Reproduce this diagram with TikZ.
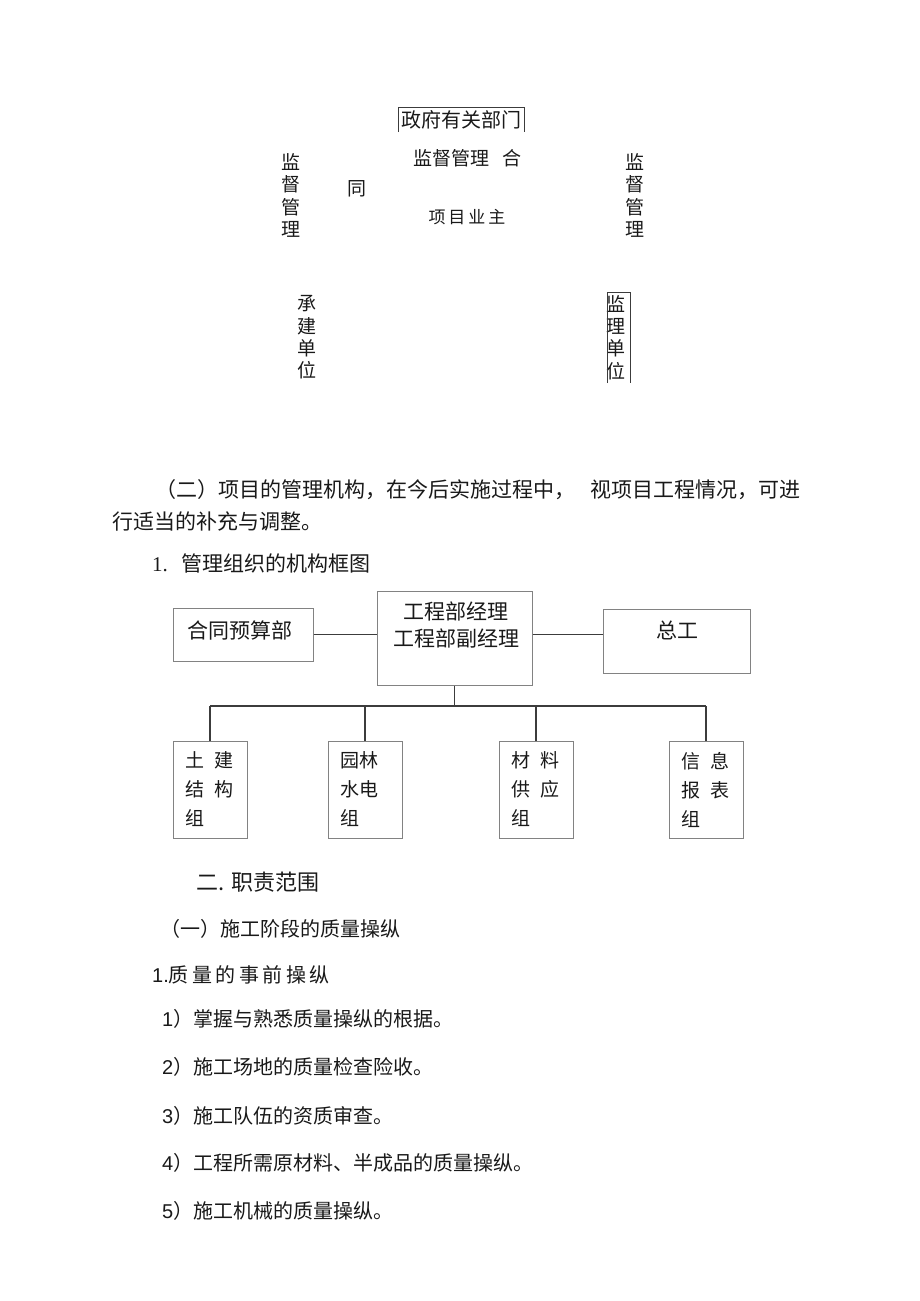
\documentclass[tikz,border=0pt]{standalone}
\usepackage{fontspec}
\setmainfont{Liberation Serif}
\newfontfamily\cjk{Noto Sans CJK SC}
\newfontfamily\digits{Liberation Sans}
\usetikzlibrary{positioning}
\definecolor{inkblack}{RGB}{25,25,25}
\definecolor{boxgray}{RGB}{130,130,130}
\definecolor{linegray}{RGB}{60,60,60}
\newcommand{\cjksize}[2]{\cjk\fontsize{#1}{#2}\selectfont}

\begin{document}
\begin{tikzpicture}[x=1pt, y=-1pt,
  txt/.style={inner sep=0pt, text=inkblack, font=\cjksize{20}{24}},
  para/.style={txt, anchor=west},
  vert/.style={txt, font=\cjksize{19}{22.3}, align=center},
  frame/.style={draw=linegray, line width=0.9pt},
  orgbox/.style={draw=boxgray, line width=1pt, inner sep=0pt},
  groupbox/.style={orgbox, minimum width=74pt, minimum height=97pt,
    text width=50pt, align=left, text=inkblack, font=\cjksize{19}{29}},
  conn/.style={draw=linegray, line width=1.3pt}]
  \useasboundingbox (0,0) rectangle (920,1301);

  % Relations
  \node[txt] (zhengfu) at (461,120) {政府有关部门};
  \draw[frame] (398,132) |- (524,107) -- (524,132);
  \node[txt, font=\cjksize{19}{22}, anchor=west] (jianduhe) at (413,158) {监督管理\hspace{13pt}合};
  \node[txt, font=\cjksize{19}{22}] (tong) at (357,189) {同};
  \node[txt, font=\cjksize{17}{20}] (yezhu) at (467,217) {项\hspace{3pt}目\hspace{3pt}业\hspace{3pt}主};
  \node[vert] (jiandul) at (291,195.5) {监\\督\\管\\理};
  \node[vert] (jiandur) at (635,195.5) {监\\督\\管\\理};
  \node[vert] (chengjian) at (307,337.5) {承\\建\\单\\位};
  \node[vert] (jianli) at (616,337.5) {监\\理\\单\\位};
  \draw[frame] (607,383) |- (630,292) -- (630,383);

  % Paragraph
  \node[para, font=\cjksize{21}{24}] (parai) at (155,490) {（二）项目的管理机构，在今后实施过程中，};
  \node[para, font=\cjksize{21}{24}] (paraii) at (590,490) {视项目工程情况，可进};
  \node[para, font=\cjksize{21}{24}] (paraiii) at (112,522) {行适当的补充与调整。};
  \node[para, font=\cjksize{21}{24}] (kuangtu) at (152,563) {{\rmfamily 1.}\hspace{14pt}管理组织的机构框图};

  % Chart
  \node[orgbox, minimum width=140pt, minimum height=53pt] (hetong) at (243,634.5) {};
  \node[txt, font=\cjksize{21}{24}] (hetongtxt) at (240,630) {合同预算部};
  \node[orgbox, minimum width=155pt, minimum height=94pt] (jingli) at (454.5,638) {};
  \node[txt, font=\cjksize{21}{27}, align=center] (jinglitxt) at (456,624.5) {工程部经理\\工程部副经理};
  \node[orgbox, minimum width=147pt, minimum height=64pt] (zonggong) at (676.5,641) {};
  \node[txt, font=\cjksize{21}{24}] (zonggongtxt) at (677,630) {总工};

  \node[groupbox] (tujian) at (210,789.5) {土\hspace{11pt}建\\结\hspace{11pt}构\\组};
  \node[groupbox] (yuanlin) at (365,789.5) {园林\\水电\\组};
  \node[groupbox] (cailiao) at (536,789.5) {材\hspace{11pt}料\\供\hspace{11pt}应\\组};
  \node[groupbox] (xinxi) at (706,789.5) {信\hspace{11pt}息\\报\hspace{11pt}表\\组};

  \coordinate (bus) at (454.5,706);
  \draw[conn] (hetong.east) -- (jingli.west |- hetong.east);
  \draw[conn] (jingli.east |- hetong.east) -- (zonggong.west |- hetong.east);
  \draw[conn] (jingli.south) -- (bus);
  \draw[conn] (tujian.north |- bus) -- (xinxi.north |- bus);
  \foreach \grp in {tujian, yuanlin, cailiao, xinxi}
    \draw[conn] (\grp.north |- bus) -- (\grp.north);

  % Duties
  \node[para, font=\cjksize{22}{24}] (zhize) at (196,882) {二.\hspace{7pt}职责范围};
  \node[para] (jieduan) at (160,929) {（一）施工阶段的质量操纵};
  \node[para] (shiqian) at (152,975) {{\digits 1.}质\hspace{3.5pt}量\hspace{3.5pt}的\hspace{3.5pt}事\hspace{3.5pt}前\hspace{3.5pt}操\hspace{3.5pt}纵};
  \node[para] (itemi) at (162,1019) {{\digits 1}）掌握与熟悉质量操纵的根据。};
  \node[para] (itemii) at (162,1067) {{\digits 2}）施工场地的质量检查险收。};
  \node[para] (itemiii) at (162,1116) {{\digits 3}）施工队伍的资质审查。};
  \node[para] (itemiv) at (162,1163) {{\digits 4}）工程所需原材料、半成品的质量操纵。};
  \node[para] (itemv) at (162,1211) {{\digits 5}）施工机械的质量操纵。};
\end{tikzpicture}
\end{document}
